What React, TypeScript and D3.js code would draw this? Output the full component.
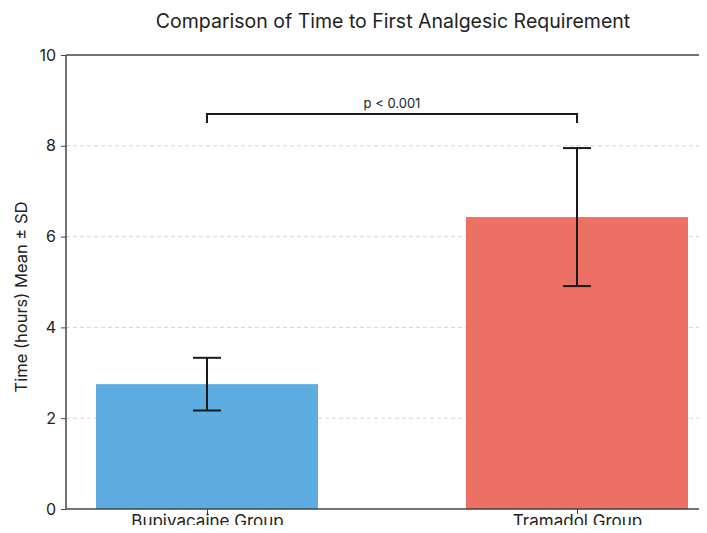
import React, { useEffect, useRef } from "react";
import * as d3 from "d3";

// chart values
const groups = ["Bupivacaine Group", "Tramadol Group"];
const means = [2.75, 6.43];
const sds = [0.58, 1.52];
const barColors = ["#5DADE2", "#EC7063"];
const yTicks = [0, 2, 4, 6, 8, 10];
const pLabel = "p < 0.001";
const bracketLevel = 8.7;

const App = () => {
  const svgRef = useRef<SVGSVGElement | null>(null);

  useEffect(() => {
    const W = 707;
    const H = 533;
    const margin = { top: 55, left: 66, bottom: 24 };
    const plotRight = 718; // axes run past the right edge in the reference
    const svg = d3.select(svgRef.current);
    svg.selectAll("*").remove();

    const font = "Inter, 'Open Sans', sans-serif";

    // x positions 0 and 1, bar width 0.6
    const x = d3
      .scaleLinear()
      .domain([-0.381, 1.381])
      .range([margin.left, plotRight]);
    const y = d3
      .scaleLinear()
      .domain([0, 10])
      .range([H - margin.bottom, margin.top]);

    // Title
    svg
      .append("text")
      .attr("x", 393)
      .attr("y", 28)
      .attr("text-anchor", "middle")
      .style("font-family", font)
      .style("font-size", "19.5px")
      .style("fill", "#222")
      .text("Comparison of Time to First Analgesic Requirement");

    // Grid lines
    svg
      .append("g")
      .selectAll("line")
      .data(yTicks.filter((t) => t > 0 && t < 10))
      .enter()
      .append("line")
      .attr("x1", margin.left)
      .attr("x2", W)
      .attr("y1", (d) => y(d))
      .attr("y2", (d) => y(d))
      .attr("stroke", "#d4d4d4")
      .attr("stroke-width", 1)
      .attr("stroke-dasharray", "4,3");

    // Bars
    svg
      .append("g")
      .selectAll("rect")
      .data(means)
      .enter()
      .append("rect")
      .attr("x", (d, i) => x(i - 0.3))
      .attr("width", x(0.6) - x(0))
      .attr("y", (d) => y(d))
      .attr("height", (d) => y(0) - y(d))
      .attr("fill", (d, i) => barColors[i]);

    // Error bars
    const cap = 14;
    const eb = svg.append("g").attr("stroke", "#1a1a1a").attr("stroke-width", 2);
    means.forEach((m, i) => {
      const cx = x(i);
      eb.append("line")
        .attr("x1", cx)
        .attr("x2", cx)
        .attr("y1", y(m + sds[i]))
        .attr("y2", y(m - sds[i]));
      [m + sds[i], m - sds[i]].forEach((v) => {
        eb.append("line")
          .attr("x1", cx - cap)
          .attr("x2", cx + cap)
          .attr("y1", y(v))
          .attr("y2", y(v));
      });
    });

    // Significance bracket
    const by = y(bracketLevel);
    const drop = y(bracketLevel - 0.2);
    svg
      .append("path")
      .attr("d", `M${x(0)},${drop}V${by}H${x(1)}V${drop}`)
      .attr("fill", "none")
      .attr("stroke", "#1a1a1a")
      .attr("stroke-width", 2);
    svg
      .append("text")
      .attr("x", (x(0) + x(1)) / 2)
      .attr("y", by - 6)
      .attr("text-anchor", "middle")
      .style("font-family", font)
      .style("font-size", "13px")
      .style("fill", "#222")
      .text(pLabel);

    // Spines (left, top, bottom)
    const spine = svg.append("g").attr("stroke", "#444").attr("stroke-width", 1.5);
    spine.append("line").attr("x1", margin.left).attr("x2", margin.left).attr("y1", y(10)).attr("y2", y(0));
    spine.append("line").attr("x1", margin.left).attr("x2", W).attr("y1", y(10)).attr("y2", y(10));
    spine.append("line").attr("x1", margin.left).attr("x2", W).attr("y1", y(0)).attr("y2", y(0));

    // Y axis
    const yAxis = svg
      .append("g")
      .attr("transform", `translate(${margin.left},0)`)
      .call(d3.axisLeft(y).tickValues(yTicks).tickSize(5).tickPadding(5));
    yAxis.select(".domain").remove();
    yAxis.selectAll(".tick line").attr("stroke", "#444");
    yAxis
      .selectAll(".tick text")
      .style("font-family", font)
      .style("font-size", "16px")
      .style("fill", "#222");

    // X axis
    const xAxis = svg
      .append("g")
      .attr("transform", `translate(0,${y(0)})`)
      .call(
        d3
          .axisBottom(x)
          .tickValues([0, 1])
          .tickFormat((d) => groups[d as number])
          .tickSize(5)
          .tickPadding(1)
      );
    xAxis.select(".domain").remove();
    xAxis.selectAll(".tick line").attr("stroke", "#444");
    xAxis
      .selectAll(".tick text")
      .style("font-family", font)
      .style("font-size", "17px")
      .style("fill", "#222");

    // Y label
    svg
      .append("text")
      .attr("transform", `translate(27,297) rotate(-90)`)
      .attr("text-anchor", "middle")
      .style("font-family", font)
      .style("font-size", "16.5px")
      .style("fill", "#222")
      .text("Time (hours) Mean \u00b1 SD");
  }, []);

  return (
    <div style={{ margin: -8, width: 707, height: 533, background: "#fff", overflow: "hidden" }}>
      <svg ref={svgRef} width={707} height={533} style={{ display: "block" }} />
    </div>
  );
};

export default App;
